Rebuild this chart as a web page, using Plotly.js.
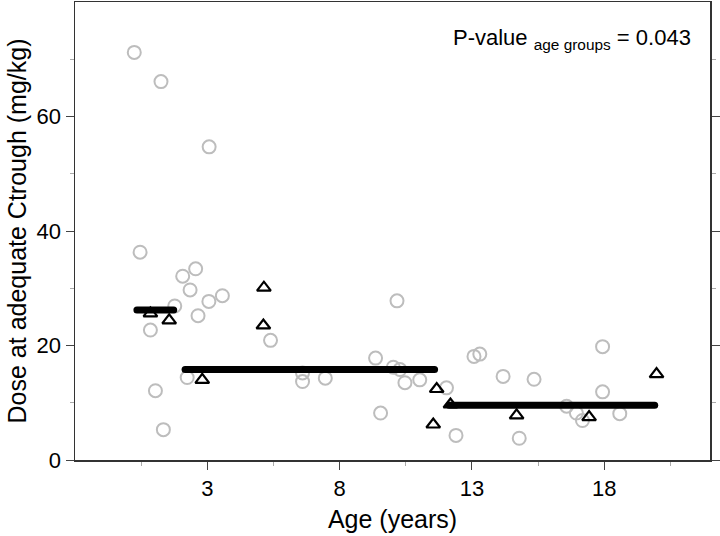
<!DOCTYPE html>
<html>
<head>
<meta charset="utf-8">
<script src="https://cdn.plot.ly/plotly-3.0.1.min.js"></script>
<style>html,body{margin:0;padding:0;background:#fff;}#plot{width:720px;height:536px;}
#plot .js-line{stroke-linecap:round;}</style>
</head>
<body>
<div id="plot"></div>
<script>
// Individual patients (grey circles)
const circleAge = [0.24,1.25,3.07,0.46,2.07,2.56,2.35,3.06,3.57,1.77,2.65,0.85,5.39,10.17,9.36,2.24,6.6,6.6,7.46,10.03,10.28,10.47,11.03,1.04,1.34,9.55,12.04,13.08,13.3,14.18,15.35,12.4,14.79,16.58,16.95,17.18,17.94,17.94,18.59];
const circleDose = [71.2,66.1,54.7,36.3,32.1,33.4,29.7,27.7,28.7,26.9,25.2,22.7,20.9,27.8,17.8,14.4,15.2,13.7,14.3,16.2,15.8,13.5,14.0,12.1,5.3,8.2,12.6,18.1,18.5,14.6,14.1,4.3,3.8,9.4,8.2,6.9,19.8,11.9,8.1];
// Patients shown as triangles
const triAge = [0.85,1.56,5.14,5.12,2.81,11.67,11.54,12.19,14.69,17.43,19.98];
const triDose = [25.6,24.4,30.1,23.5,14.0,12.4,6.2,9.7,7.8,7.5,15.0];
// Age-group medians
const groupStart = [0.34,2.16,12.14];
const groupEnd = [1.73,11.59,19.91];
const groupMedian = [26.2,15.8,9.55];
const xTicks = [3,8,13,18];
const yTicks = [0,20,40,60];

const traces = [];
traces.push({
  x: circleAge, y: circleDose, type: 'scatter', mode: 'markers',
  marker: {symbol: 'circle-open', size: 13, color: '#bdbdbd', line: {width: 2, color: '#bdbdbd'}},
  hoverinfo: 'x+y', showlegend: false
});
for (let i = 0; i < groupMedian.length; i++) {
  traces.push({
    x: [groupStart[i], groupEnd[i]], y: [groupMedian[i], groupMedian[i]],
    type: 'scatter', mode: 'lines', line: {color: '#000', width: 7},
    showlegend: false, hoverinfo: 'y'
  });
}
traces.push({
  x: triAge, y: triDose, type: 'scatter', mode: 'markers',
  marker: {symbol: 'triangle-up-open', size: 12, color: '#000', line: {width: 2.2, color: '#000'}},
  hoverinfo: 'x+y', showlegend: false
});

const fam = 'Liberation Sans, Arial, sans-serif';
const tickFont = {family: fam, size: 22, color: '#000'};
const layout = {
  width: 720, height: 536,
  margin: {l: 75, r: 10, t: 2, b: 76},
  paper_bgcolor: '#fff', plot_bgcolor: '#fff',
  font: tickFont,
  xaxis: {
    range: [-2, 22], tickmode: 'array', tickvals: xTicks, ticktext: xTicks.map(String),
    ticks: 'outside', ticklen: 8, tickwidth: 1, tickcolor: '#444',
    minor: {tickvals: [0.5,5.5,10.5,15.5,20.5], ticks: 'outside', ticklen: 4, tickcolor: '#aaa', showgrid: false},
    showline: true, linecolor: '#333', linewidth: 1.5, mirror: true,
    showgrid: false, zeroline: false, tickfont: tickFont,
    title: {text: 'Age (years)', font: {family: fam, size: 25, color: '#000'}, standoff: 10}
  },
  yaxis: {
    range: [0, 80], tickmode: 'array', tickvals: yTicks, ticktext: yTicks.map(String),
    ticks: 'outside', ticklen: 8, tickwidth: 1, tickcolor: '#444',
    minor: {tickvals: [10,30,50,70], ticks: 'outside', ticklen: 4, tickcolor: '#aaa', showgrid: false},
    showline: true, linecolor: '#333', linewidth: 1.5, mirror: 'ticks',
    showgrid: false, zeroline: false, tickfont: tickFont,
    title: {text: 'Dose at adequate Ctrough (mg/kg)', font: {family: fam, size: 25, color: '#000'}, standoff: 3}
  },
  annotations: [{
    xref: 'paper', yref: 'paper', x: 0.973, y: 0.92, xanchor: 'right', yanchor: 'middle',
    text: 'P-value <sub>age groups</sub> = 0.043', showarrow: false,
    font: {family: fam, size: 22, color: '#000'}
  }]
};
Plotly.newPlot('plot', traces, layout, {displayModeBar: false, staticPlot: true});
</script>
</body>
</html>
